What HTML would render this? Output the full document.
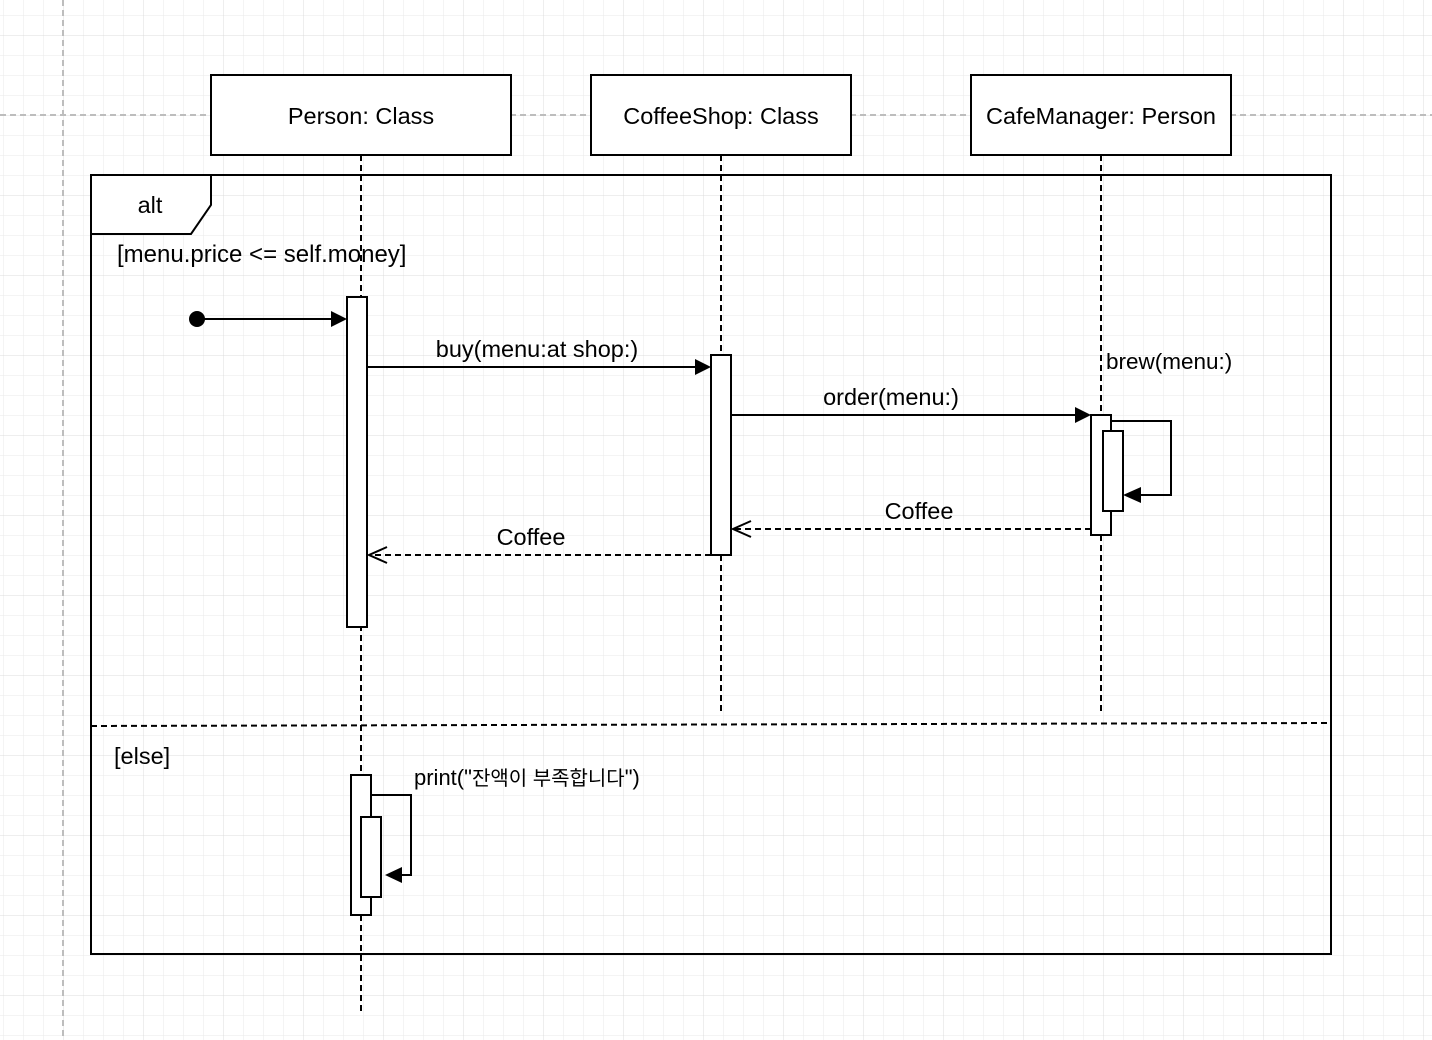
<!DOCTYPE html>
<html><head><meta charset="utf-8"><style>
html,body{margin:0;padding:0;background:#fff;}
svg{display:block;}
text{font-family:"Liberation Sans","Noto Sans CJK KR",sans-serif;font-size:23.5px;fill:#000;}
</style></head><body>
<svg width="1432" height="1040" viewBox="0 0 1432 1040" xmlns="http://www.w3.org/2000/svg">
<defs>
<pattern id="minor" width="20" height="20" patternUnits="userSpaceOnUse" x="3" y="15">
<path d="M0 0H20M0 0V20" stroke="#eaeaea" stroke-width="1" fill="none"/>
</pattern>
<pattern id="major" width="80" height="80" patternUnits="userSpaceOnUse" x="63" y="35">
<path d="M0 0H80M0 0V80" stroke="#dcdcdc" stroke-width="1" fill="none"/>
</pattern>
</defs>
<rect width="1432" height="1040" fill="#fff"/>
<rect width="1432" height="1040" fill="url(#minor)"/>
<rect width="1432" height="1040" fill="url(#major)"/>
<line x1="63" y1="0" x2="63" y2="1040" stroke="#bdbdbd" stroke-width="2" stroke-dasharray="6,4"/>
<line x1="0" y1="115" x2="1432" y2="115" stroke="#bdbdbd" stroke-width="2" stroke-dasharray="6,4"/>

<g stroke="#000" stroke-width="2" fill="#fff">
<rect x="211" y="75" width="300" height="80"/>
<rect x="591" y="75" width="260" height="80"/>
<rect x="971" y="75" width="260" height="80"/>
</g>
<text x="361" y="124" text-anchor="middle">Person: Class</text>
<text x="721" y="124" text-anchor="middle">CoffeeShop: Class</text>
<text x="1101" y="124" text-anchor="middle">CafeManager: Person</text>

<g stroke="#000" stroke-width="2" stroke-dasharray="6,4" fill="none">
<line x1="361" y1="155" x2="361" y2="1012"/>
<line x1="721" y1="155" x2="721" y2="715"/>
<line x1="1101" y1="155" x2="1101" y2="715"/>
</g>

<rect x="91" y="175" width="1240" height="779" fill="none" stroke="#000" stroke-width="2"/>
<path d="M91 175H211V205L191 234H91Z" fill="#fff" stroke="#000" stroke-width="2"/>
<text x="150" y="213" text-anchor="middle">alt</text>
<text x="117" y="262" style="font-size:24px">[menu.price &lt;= self.money]</text>
<line x1="91" y1="726" x2="1331" y2="723" stroke="#000" stroke-width="2" stroke-dasharray="6,4"/>
<text x="114" y="764">[else]</text>

<g stroke="#000" stroke-width="2" fill="#fff">
<rect x="347" y="297" width="20" height="330"/>
<rect x="711" y="355" width="20" height="200"/>
<rect x="1091" y="415" width="20" height="120"/>
<rect x="1103" y="431" width="20" height="80"/>
<rect x="351" y="775" width="20" height="140"/>
<rect x="361" y="817" width="20" height="80"/>
</g>

<circle cx="197" cy="319" r="8" fill="#000"/>
<g stroke="#000" stroke-width="2" fill="none">
<line x1="197" y1="319" x2="332" y2="319"/>
<line x1="367" y1="367" x2="696" y2="367"/>
<line x1="731" y1="415" x2="1076" y2="415"/>
<polyline points="1111,421 1171,421 1171,495 1138,495"/>
<polyline points="371,795 411,795 411,875 398,875"/>
<line x1="1091" y1="529" x2="733" y2="529" stroke-dasharray="6,4"/>
<line x1="711" y1="555" x2="369" y2="555" stroke-dasharray="6,4"/>
<polyline points="751,521 733,529 751,537"/>
<polyline points="387,547 369,555 387,563"/>
</g>
<g fill="#000">
<polygon points="347,319 331,311 331,327"/>
<polygon points="711,367 695,359 695,375"/>
<polygon points="1091,415 1075,407 1075,423"/>
<polygon points="1123,495 1141,487 1141,503"/>
<polygon points="385,875 402,867 402,883"/>
</g>

<text x="537" y="357" text-anchor="middle">buy(menu:at shop:)</text>
<text x="891" y="405" text-anchor="middle">order(menu:)</text>
<text x="1106" y="369" style="font-size:22.5px">brew(menu:)</text>
<text x="919" y="519" text-anchor="middle">Coffee</text>
<text x="531" y="545" text-anchor="middle">Coffee</text>
<text x="414" y="785" style="font-size:22px">print("<tspan style="font-size:20px">잔액이 부족합니다</tspan>")</text>
</svg>
</body></html>
